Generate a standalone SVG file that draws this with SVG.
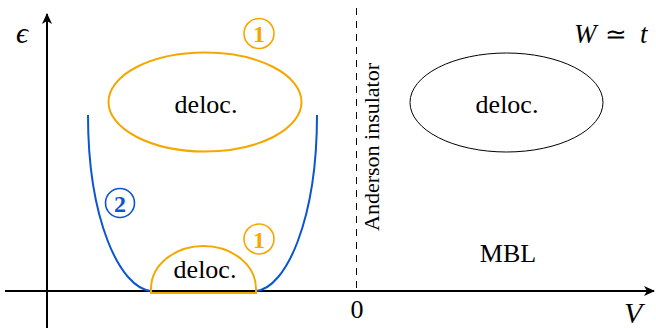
<svg xmlns="http://www.w3.org/2000/svg" width="656" height="328" viewBox="0 0 656 328">
<style>
text{font-family:"Liberation Serif","Times New Roman",serif}
.lbl{font-size:26px;text-anchor:middle}
.num{font-size:24px;font-weight:bold;text-anchor:middle}
.or{stroke:#F5A700;fill:none;stroke-width:2}
.bl{stroke:#0A55D2;fill:none;stroke-width:2}
.ax{stroke:#000;stroke-width:2;fill:none}
</style>
<defs>
<marker id="arr" markerWidth="12" markerHeight="10" refX="10" refY="5" orient="auto" markerUnits="userSpaceOnUse">
<path d="M0,0 L11,5 L0,10 L3,5 Z" fill="#000"/>
</marker>
</defs>
<g id="connectors">
<line class="ax" x1="47" y1="328" x2="47" y2="14" marker-end="url(#arr)"/>
<line class="ax" x1="5" y1="291" x2="654" y2="291" marker-end="url(#arr)"/>
<line x1="356.5" y1="8" x2="356.5" y2="291" stroke="#000" stroke-width="1" stroke-dasharray="7,6"/>
<path id="curve2" class="bl" d="M88,115 C88,220 120,288 151,291 M317,115 C317,220 286,288 256,291"/>
</g>
<g id="axis-labels">
<text x="16" y="43" style="font-size:30px;font-style:italic">ϵ</text>
<text x="624" y="323" style="font-size:30px;font-style:italic">V</text>
<text x="357" y="318" class="lbl">0</text>
<text x="574" y="43" style="font-size:27px;font-style:italic">W</text>
<text x="616" y="43" style="font-size:26px;text-anchor:middle">≃</text>
<text x="640" y="43" style="font-size:27px;font-style:italic">t</text>
</g>
<g id="deloc-top">
<ellipse class="or" cx="205" cy="102" rx="96.5" ry="49.5"/>
<text x="206" y="113" class="lbl">deloc.</text>
</g>
<g id="deloc-bottom">
<path class="or" d="M151,293 V289 A52.5,43 0 0 1 256,289 V293 Z"/>
<text x="205" y="278" class="lbl">deloc.</text>
</g>
<g id="deloc-right">
<ellipse cx="506.5" cy="102.5" rx="96.5" ry="49.5" fill="none" stroke="#000" stroke-width="1"/>
<text x="507" y="113" class="lbl">deloc.</text>
</g>
<g id="mark1-top">
<circle cx="259" cy="33.5" r="15" fill="none" stroke="#F5A700" stroke-width="1.6"/>
<text x="259" y="42" class="num" fill="#F5A700">1</text>
</g>
<g id="mark1-bottom">
<circle cx="259" cy="239" r="15" fill="none" stroke="#F5A700" stroke-width="1.6"/>
<text x="259" y="247.5" class="num" fill="#F5A700">1</text>
</g>
<g id="mark2">
<circle cx="120" cy="203" r="14.5" fill="none" stroke="#0A55D2" stroke-width="1.6"/>
<text x="120" y="211.5" class="num" fill="#0A55D2">2</text>
</g>
<g id="anderson">
<text transform="translate(379,231) rotate(-90)" style="font-size:22px">Anderson insulator</text>
</g>
<g id="mbl">
<text x="508" y="262" class="lbl">MBL</text>
</g>
</svg>
